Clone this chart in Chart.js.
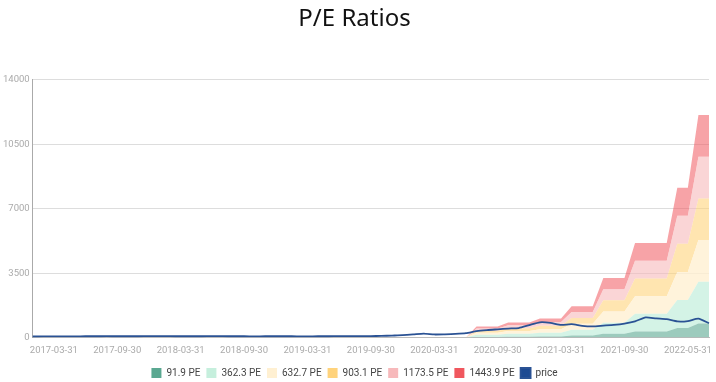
<!DOCTYPE html>
<html>
<head>
<meta charset="utf-8">
<script src="https://cdn.jsdelivr.net/npm/chart.js@4/dist/chart.umd.min.js"></script>
<style>
html,body{margin:0;padding:0;background:#fff;}
#wrap{width:716px;height:382px;position:relative;}
</style>
</head>
<body>
<div id="wrap"><canvas id="c"></canvas></div>
<script>
const dates = [
"2017-01-31","2017-02-28","2017-03-31","2017-04-28","2017-05-31","2017-06-30","2017-07-31","2017-08-31","2017-09-30","2017-10-31","2017-11-30","2017-12-29",
"2018-01-31","2018-02-28","2018-03-31","2018-04-30","2018-05-31","2018-06-29","2018-07-31","2018-08-31","2018-09-30","2018-10-31","2018-11-30","2018-12-31",
"2019-01-31","2019-02-28","2019-03-31","2019-04-30","2019-05-31","2019-06-28","2019-07-31","2019-08-30","2019-09-30","2019-10-31","2019-11-29","2019-12-31",
"2020-01-31","2020-02-28","2020-03-31","2020-04-30","2020-05-29","2020-06-30","2020-07-31","2020-08-31","2020-09-30","2020-10-30","2020-11-30","2020-12-31",
"2021-01-29","2021-02-26","2021-03-31","2021-04-30","2021-05-28","2021-06-30","2021-07-30","2021-08-31","2021-09-30","2021-10-29","2021-11-30","2021-12-31",
"2022-01-31","2022-03-31","2022-05-31","2022-06-30","2022-07-29"
];
const shownDates = ["2017-03-31","2017-09-30","2018-03-31","2018-09-30","2019-03-31","2019-09-30","2020-03-31","2020-09-30","2021-03-31","2021-09-30","2022-05-31"];
const yTicks = [0, 3500, 7000, 10500, 14000];

const z42 = [0,0,0,0,0,0,0,0,0,0,0,0,0,0,0,0,0,0,0,0,0,0,0,0,0,0,0,0,0,0,0,0,0,0,0,0,0,0,0,0,0,0];
const pe91_9   = z42.concat([38,38,38, 52,52,52, 66,66,66, 108,108,108, 206,206,206, 327,327,327,327, 518,518, 769,769]);
const pe362_3  = z42.concat([151,151,151, 206,206,206, 261,261,261, 428,428,428, 812,812,812, 1290,1290,1290,1290, 2043,2043, 3032,3032]);
const pe632_7  = z42.concat([263,263,263, 359,359,359, 456,456,456, 747,747,747, 1417,1417,1417, 2252,2252,2252,2252, 3568,3568, 5296,5296]);
const pe903_1  = z42.concat([376,376,376, 513,513,513, 650,650,650, 1066,1066,1066, 2023,2023,2023, 3215,3215,3215,3215, 5093,5093, 7559,7559]);
const pe1173_5 = z42.concat([488,488,488, 667,667,667, 845,845,845, 1385,1385,1385, 2629,2629,2629, 4178,4178,4178,4178, 6619,6619, 9822,9822]);
const pe1443_9 = z42.concat([601,601,601, 820,820,820, 1040,1040,1040, 1704,1704,1704, 3234,3234,3234, 5140,5140,5140,5140, 8144,8144, 12085,12085]);
const price = [60,62,65,68,70,72,74,75,73,72,74,76,78,75,73,72,74,76,75,73,72,70,72,74,73,71,70,72,74,76,78,80,85,
  90,110,130,170,220,170,180,200,240,350,410,450,490,520,680,830,800,690,730,640,610,650,690,760,880,1100,1040,1000,880,900,1030,780];

const bandNames = ["91.9 PE","362.3 PE","632.7 PE","903.1 PE","1173.5 PE","1443.9 PE"];
const bandData = [pe91_9, pe362_3, pe632_7, pe903_1, pe1173_5, pe1443_9];
const solid = ["#5aa891","#c6efdd","#fff0d2","#ffd37c","#f7b9bb","#f0575e"];
const fills = ["rgba(90,168,145,0.6)","rgba(198,239,221,0.75)","rgba(255,240,210,0.8)","rgba(255,211,124,0.6)","rgba(247,185,187,0.6)","rgba(240,87,94,0.55)"];

const datasets = bandData.map((d, k) => ({
  type: 'line',
  label: bandNames[k],
  data: d,
  backgroundColor: solid[k],
  borderColor: solid[k],
  borderWidth: 0,
  pointRadius: 0,
  tension: 0,
  fill: { target: k === 0 ? 'origin' : '-1', above: fills[k], below: fills[k] },
  order: 2
}));
datasets.push({
  type: 'line',
  label: 'price',
  data: price,
  backgroundColor: '#1d4a92',
  borderColor: '#2a5294',
  borderWidth: 1.8,
  pointRadius: 0,
  tension: 0.2,
  fill: false,
  order: 1
});

const legendFit = {
  id: 'legendFit',
  beforeUpdate(chart) {
    const lg = chart.legend;
    if (lg && !lg._patched) {
      const orig = lg.fit;
      lg.fit = function () { orig.call(this); this.height = 19; };
      lg._patched = true;
    }
  },
  afterLayout(chart) {
    const lg = chart.legend;
    if (lg) { lg.top -= 1; lg.bottom -= 1; }
  }
};

new Chart(document.getElementById('c'), {
  type: 'line',
  data: { labels: dates, datasets: datasets },
  plugins: [legendFit],
  options: {
    responsive: true,
    maintainAspectRatio: false,
    animation: false,
    layout: { padding: { left: 0, right: 7, top: 0, bottom: 0 } },
    plugins: {
      title: {
        display: true,
        text: 'P/E Ratios',
        color: '#111',
        font: { family: 'Noto Sans', size: 24, weight: 'normal' },
        padding: { top: 5, bottom: 46 }
      },
      legend: {
        position: 'bottom',
        labels: {
          boxWidth: 10,
          boxHeight: 10,
          padding: 6,
          color: '#444',
          font: { family: 'Roboto', size: 10 },
          sort: (a, b) => a.datasetIndex - b.datasetIndex
        }
      },
      tooltip: { enabled: false }
    },
    scales: {
      x: {
        grid: { display: false, drawTicks: false },
        border: { display: true, color: '#bbb' },
        ticks: {
          autoSkip: false,
          maxRotation: 0,
          minRotation: 0,
          color: '#aaa',
          font: { family: 'Roboto', size: 9.5 },
          padding: 7,
          callback: function(v, i) { const l = dates[i]; return shownDates.includes(l) ? l : ''; }
        }
      },
      y: {
        min: 0,
        max: 14000,
        afterBuildTicks: (axis) => { axis.ticks = yTicks.map(v => ({ value: v })); },
        grid: { color: '#ddd', drawTicks: false },
        border: { display: true, color: '#aaa' },
        ticks: {
          color: '#aaa',
          font: { family: 'Roboto', size: 9.5 },
          padding: 3,
          callback: (v) => String(v)
        }
      }
    }
  }
});
</script>
</body>
</html>
